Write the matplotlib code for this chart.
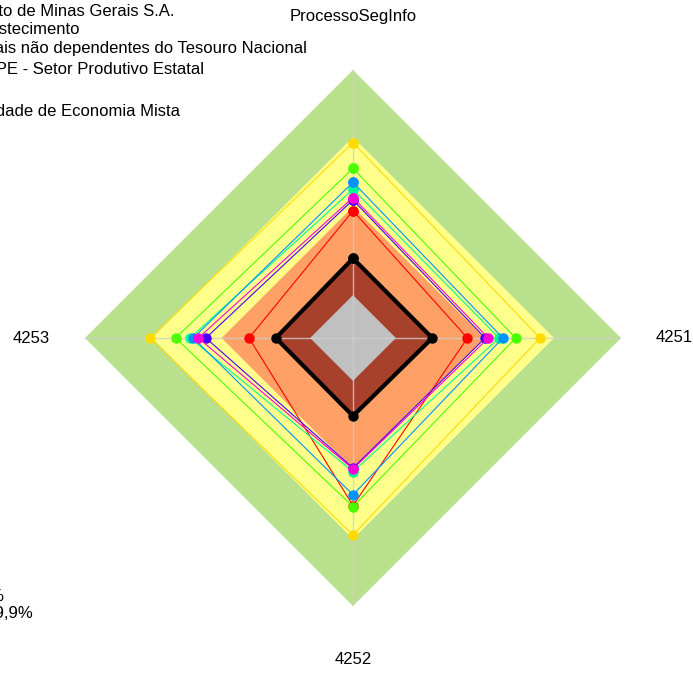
import numpy as np
import matplotlib.pyplot as plt

plt.rcParams['font.family'] = ['Liberation Sans', 'DejaVu Sans']
plt.rcParams['font.size'] = 12

# Eixos do radar (sentido horário a partir do topo)
categorias = ['ProcessoSegInfo', '4251', '4252', '4253']

# Faixas de maturidade (raio externo de cada faixa, em %)
faixas = [100, 75, 49, 29.5, 16]
cores_faixas = ['#B9E08D', '#FFFF8C', '#FFA066', '#A8412B', '#C0C0C0']

# Séries: valores por eixo (ProcessoSegInfo, 4251, 4252, 4253)
series = {
    'vermelho': [47.5, 42.7, 62.5, 38.8],
    'ouro':     [72.9, 69.8, 73.5, 75.7],
    'verde':    [63.3, 60.7, 62.9, 66.2],
    'primavera': [55.5, 54.5, 49.9, 60.8],
    'azul':     [58.1, 55.9, 58.5, 59.6],
    'violeta':  [51.5, 49.3, 48.5, 54.9],
    'magenta':  [52.4, 50.5, 48.9, 57.7],
}
cores_series = {
    'vermelho': '#FF0000',
    'ouro': '#FFDB00',
    'verde': '#49FF00',
    'primavera': '#00FF92',
    'azul': '#0092FF',
    'violeta': '#4900FF',
    'magenta': '#FF00DB',
}
entidade = [29.7, 29.6, 29.1, 28.8]

# Textos da legenda (cortados pela borda da figura)
legenda_topo = [
    'Banco de Desenvolvimento de Minas Gerais S.A.',
    'Centrais de Abastecimento',
    'Empresas estatais não dependentes do Tesouro Nacional',
    'SEST/OPE - Setor Produtivo Estatal',
    '',
    'Sociedade de Economia Mista',
]
legenda_topo_fim = [174, 79, 307, 204, 0, 180]
legenda_topo_y = [12, 30, 49, 70, 91, 112]

legenda_base = ['Aprimorado 70% a 100%', 'Intermediário 40% a 69,9%']
legenda_base_fim = [4, 33]
legenda_base_y = [597, 614]

W, H = 693, 673
fig = plt.figure(figsize=(W / 100, H / 100), dpi=100)
cx, cy, raio = 353, 338, 268
ax = fig.add_axes([(cx - raio) / W, (H - cy - raio) / H, 2 * raio / W, 2 * raio / H],
                  projection='polar')
ax.set_theta_zero_location('N')
ax.set_theta_direction(-1)
ax.set_ylim(0, 100)
ax.spines['polar'].set_visible(False)
ax.grid(False)
ax.set_xticks([])
ax.set_yticks([])

angulos = np.arange(len(categorias)) * 2 * np.pi / len(categorias)
ang = np.append(angulos, angulos[0])

# faixas de fundo
for r, cor in zip(faixas, cores_faixas):
    ax.fill(ang, [r] * len(ang), color=cor, lw=0, zorder=1)

# raios dos eixos
for a in angulos:
    ax.plot([a, a], [0, 100], color='#CFCFCF', lw=1, alpha=0.8, zorder=2)

for i, (nome, vals) in enumerate(series.items()):
    v = np.append(vals, vals[0])
    ax.plot(ang, v, color=cores_series[nome], lw=0.8, marker='o', ms=6.5,
            zorder=3 + i)

v = np.append(entidade, entidade[0])
ax.plot(ang, v, color='black', lw=3, marker='o', ms=6.5, zorder=20)

for a, nome in zip(angulos, categorias):
    ax.text(a, 120, nome, ha='center', va='center')

for txt, x, y in zip(legenda_topo, legenda_topo_fim, legenda_topo_y):
    if txt:
        fig.text(x / W, 1 - y / H, txt, ha='right', va='center')
for txt, x, y in zip(legenda_base, legenda_base_fim, legenda_base_y):
    fig.text(x / W, 1 - y / H, txt, ha='right', va='center')

fig.savefig('out.png', dpi=100)
